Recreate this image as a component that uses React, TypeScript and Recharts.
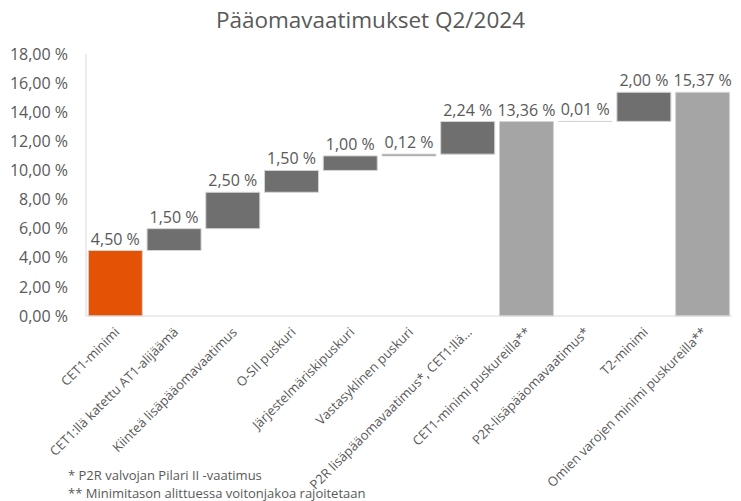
import { BarChart, Bar, XAxis, YAxis, Cell, LabelList } from "recharts";

const categories = [
  "CET1-minimi",
  "CET1:llä katettu AT1-alijäämä",
  "Kiinteä lisäpääomavaatimus",
  "O-SII puskuri",
  "Järjestelmäriskipuskuri",
  "Vastasyklinen puskuri",
  "P2R lisäpääomavaatimus*, CET1:llä...",
  "CET1-minimi puskureilla**",
  "P2R-lisäpääomavaatimus*",
  "T2-minimi",
  "Omien varojen minimi puskureilla**",
];

const values = [4.5, 1.5, 2.5, 1.5, 1.0, 0.12, 2.24, 13.36, 0.01, 2.0, 15.37];

// "first" = starting bar, "step" = increment, "total" = subtotal from zero
const kinds = ["first", "step", "step", "step", "step", "step", "step", "total", "step", "step", "total"];

const yTicks = [0, 2, 4, 6, 8, 10, 12, 14, 16, 18];

const colors: Record<string, string> = {
  first: "#e35205",
  step: "#6f6f6f",
  total: "#a5a5a5",
};

const FONT = "'Open Sans', 'Noto Sans', sans-serif";
const TEXT = "#595959";

const fmt = (v: number) => v.toFixed(2).replace(".", ",") + " %";

let running = 0;
const data = categories.map((name, i) => {
  const base = kinds[i] === "step" ? running : 0;
  running = kinds[i] === "total" ? values[i] : running + values[i];
  return { name, base, value: values[i], kind: kinds[i] };
});

const AxisTick = (props: any) => {
  const { x, y, payload } = props;
  return (
    <g transform={`translate(${x + 5},${y + 9})`}>
      <text
        transform="rotate(-45)"
        textAnchor="end"
        fontSize={13}
        fill={TEXT}
        fontFamily={FONT}
      >
        {payload.value}
      </text>
    </g>
  );
};

const ValueLabel = (props: any) => {
  const { x, y, width, value } = props;
  return (
    <text
      x={Number(x) + Number(width) / 2}
      y={Number(y) - 6}
      textAnchor="middle"
      fontSize={16}
      fill={TEXT}
      fontFamily={FONT}
    >
      {fmt(Number(value))}
    </text>
  );
};

export default function App() {
  return (
    <div
      style={{
        position: "absolute",
        left: 0,
        top: 0,
        width: 741,
        height: 501,
        background: "#fff",
        fontFamily: FONT,
      }}
    >
      <div
        style={{
          position: "absolute",
          top: 4,
          left: 0,
          width: 741,
          textAlign: "center",
          fontSize: 22.5,
          color: TEXT,
        }}
      >
        Pääomavaatimukset Q2/2024
      </div>
      <BarChart
        width={741}
        height={501}
        data={data}
        margin={{ top: 54, right: 9, bottom: 35, left: 0 }}
        barCategoryGap="4%"
      >
        <XAxis
          dataKey="name"
          interval={0}
          height={150}
          tick={<AxisTick />}
          tickLine={false}
          axisLine={{ stroke: "#d9d9d9" }}
        />
        <YAxis
          width={86}
          domain={[0, 18]}
          ticks={yTicks}
          tickFormatter={fmt}
          tickSize={0}
          tickMargin={18}
          tickLine={false}
          axisLine={{ stroke: "#d9d9d9" }}
          tick={{ fontSize: 16, fill: TEXT, fontFamily: FONT }}
        />
        <Bar dataKey="base" stackId="w" fill="transparent" isAnimationActive={false} />
        <Bar dataKey="value" stackId="w" stroke="#d4d4d4" strokeWidth={1} isAnimationActive={false}>
          {data.map((d, i) => (
            <Cell key={i} fill={colors[d.kind]} />
          ))}
          <LabelList dataKey="value" content={<ValueLabel />} />
        </Bar>
      </BarChart>
      <div
        style={{
          position: "absolute",
          left: 68,
          top: 466,
          fontSize: 13,
          color: TEXT,
          lineHeight: "18px",
        }}
      >
        <div>* P2R valvojan Pilari II -vaatimus</div>
        <div>** Minimitason alittuessa voitonjakoa rajoitetaan</div>
      </div>
    </div>
  );
}
